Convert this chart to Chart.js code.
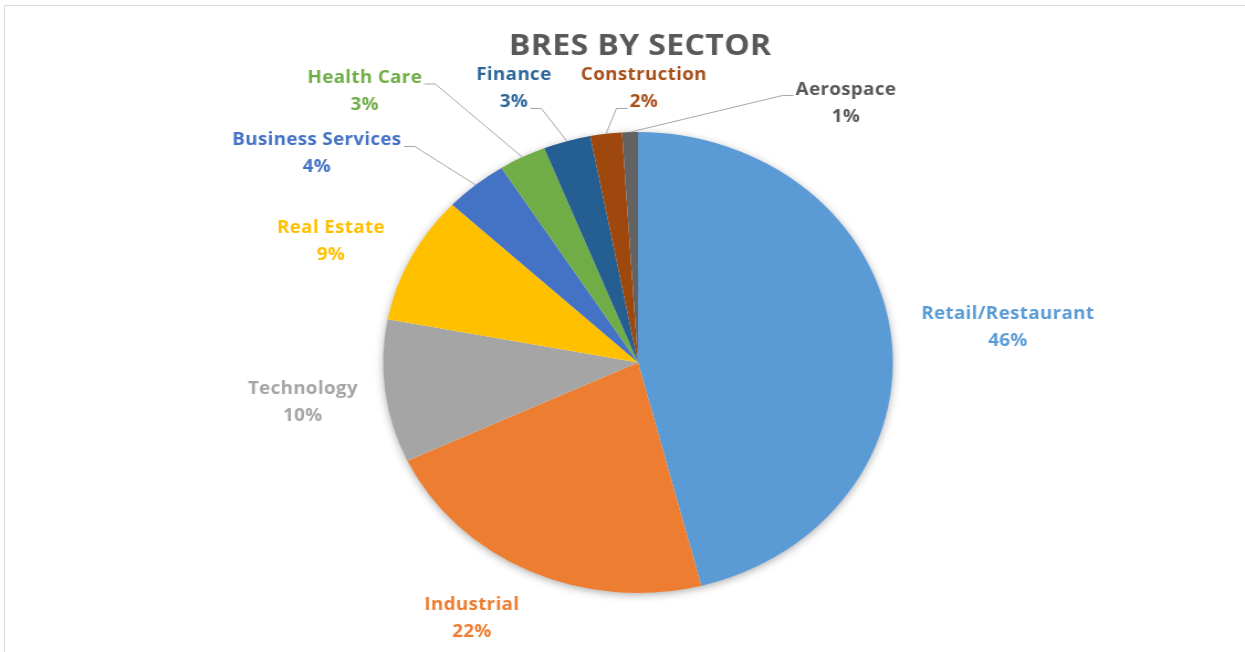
<!DOCTYPE html>
<html>
<head>
<meta charset="utf-8">
<script src="https://cdn.jsdelivr.net/npm/chart.js@4/dist/chart.umd.min.js"></script>
<style>
  html, body { margin: 0; padding: 0; background: #fff; overflow: hidden; }
  .frame {
    position: absolute; left: 4px; top: 5px; width: 1400px; height: 800px;
    border: 1px solid #d9d9d9; box-sizing: border-box;
  }
  /* chart is laid out narrower and widened with a horizontal stretch */
  .chart-wrap {
    position: absolute; left: 0; top: 0; width: 1126px; height: 652px;
    transform: scaleX(1.1057); transform-origin: 0 0;
  }
</style>
</head>
<body>
<div class="frame"></div>
<div class="chart-wrap"><canvas id="sectorPie"></canvas></div>
<script>
const chartTitle = 'BRES BY SECTOR';
const sectors = ['Retail/Restaurant', 'Industrial', 'Technology', 'Real Estate', 'Business Services',
  'Health Care', 'Finance', 'Construction', 'Aerospace'];
const shares = [46, 22, 10, 9, 4, 3, 3, 2, 1];
const sliceColors = ['#5B9BD5', '#ED7D31', '#A5A5A5', '#FFC000', '#4472C4', '#70AD47', '#255E91', '#9E480E', '#636363'];
const labelColors = ['#5B9BD5', '#ED7D31', '#A5A5A5', '#FFC000', '#4472C4', '#70AD47', '#2E6699', '#A8501A', '#595959'];

// where each label sits, relative to the pie centre in radius units;
// leader = side of the text the connector leaves from, row = which text line
const labelSpots = [
  { dx: 1.451, dy: -0.158 },
  { dx: -0.652, dy: 1.108 },
  { dx: -1.315, dy: 0.171 },
  { dx: -1.205, dy: -0.531 },
  { dx: -1.260, dy: -0.909, leader: 'right', row: 0 },
  { dx: -1.072, dy: -1.180, leader: 'right', row: 0 },
  { dx: -0.487, dy: -1.191, leader: 'right', row: 1 },
  { dx: 0.023, dy: -1.191, leader: 'left', row: 1 },
  { dx: 0.816, dy: -1.130, leader: 'left', row: 0 }
];

const FONT = '"Open Sans", "Noto Sans", sans-serif';

// soft shadow under the whole pie
const pieShadow = {
  id: 'pieShadow',
  beforeDatasetsDraw(chart) {
    const arc = chart.getDatasetMeta(0).data[0];
    if (!arc) return;
    const ctx = chart.ctx;
    ctx.save();
    ctx.shadowColor = 'rgba(0,0,0,0.35)';
    ctx.shadowBlur = 8;
    ctx.shadowOffsetY = 2;
    ctx.fillStyle = '#ffffff';
    ctx.beginPath();
    ctx.arc(arc.x, arc.y, arc.outerRadius - 0.5, 0, Math.PI * 2);
    ctx.fill();
    ctx.restore();
  }
};

// title, category/percent labels and leader lines
const sectorLabels = {
  id: 'sectorLabels',
  afterDatasetsDraw(chart) {
    const ctx = chart.ctx;
    const arcs = chart.getDatasetMeta(0).data;
    const cx = arcs[0].x, cy = arcs[0].y, r = arcs[0].outerRadius;
    const lineGap = 27;

    ctx.save();
    ctx.fillStyle = '#595959';
    ctx.font = 'bold 29px ' + FONT;
    ctx.letterSpacing = '0.3px';
    ctx.textAlign = 'center';
    ctx.textBaseline = 'alphabetic';
    ctx.fillText(chartTitle, cx + 2, 55);

    ctx.font = 'bold 17px ' + FONT;
    ctx.letterSpacing = '0.3px';
    arcs.forEach((arc, i) => {
      const spot = labelSpots[i];
      const lx = cx + spot.dx * r;
      const ly = cy + spot.dy * r;
      const lines = [sectors[i], shares[i] + '%'];
      const centers = [ly - lineGap / 2, ly + lineGap / 2];

      if (spot.leader) {
        const mid = (arc.startAngle + arc.endAngle) / 2;
        const ax = cx + Math.cos(mid) * r;
        const ay = cy + Math.sin(mid) * r;
        const w = ctx.measureText(lines[spot.row]).width;
        const dir = spot.leader === 'right' ? 1 : -1;
        const sx = lx + dir * (w / 2 + 2);
        const sy = centers[spot.row] + 7;
        ctx.strokeStyle = '#a6a6a6';
        ctx.lineWidth = 1;
        ctx.beginPath();
        ctx.moveTo(sx, sy);
        ctx.lineTo(sx + dir * 10, sy);
        ctx.lineTo(ax, ay);
        ctx.stroke();
      }

      ctx.fillStyle = labelColors[i];
      lines.forEach((t, k) => ctx.fillText(t, lx, centers[k] + 6));
    });
    ctx.restore();
  }
};

new Chart(document.getElementById('sectorPie'), {
  type: 'pie',
  data: {
    labels: sectors,
    datasets: [{
      data: shares,
      backgroundColor: sliceColors,
      borderWidth: 0
    }]
  },
  options: {
    responsive: true,
    maintainAspectRatio: false,
    animation: false,
    layout: { padding: { left: 346.5, right: 318.5, top: 132, bottom: 59 } },
    plugins: {
      legend: { display: false },
      tooltip: { enabled: false },
      title: { display: false }
    }
  },
  plugins: [pieShadow, sectorLabels]
});
</script>
</body>
</html>
